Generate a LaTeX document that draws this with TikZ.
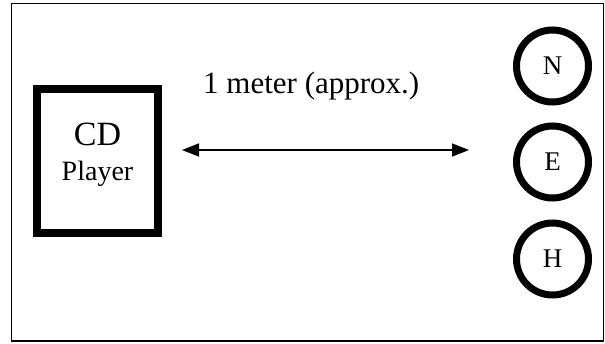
\documentclass[tikz,border=0pt]{standalone}
\usepackage{fontspec}
\setmainfont{Liberation Serif}
\usetikzlibrary{arrows.meta}
\begin{document}
\begin{tikzpicture}[x=1pt,y=-1pt,
  frame/.style={draw=black,line width=1.5pt},
  player/.style={draw=black,line width=8pt,minimum width=121pt,minimum height=144pt,inner sep=0pt},
  sensor/.style={draw=black,line width=7pt,circle,minimum size=72pt,inner sep=0pt,font=\fontsize{27}{29}\selectfont},
  link/.style={line width=1.5pt,{Triangle[length=17pt,width=13pt]}-{Triangle[length=17pt,width=13pt]}}]
\useasboundingbox (0,0) rectangle (605,343);
\draw[frame] (11.5,3.5) rectangle (603.5,341);
\node[player] (cd) at (97.5,161) {};
\node[anchor=base,font=\fontsize{34}{36}\selectfont,inner sep=0pt] (cdt) at (97.5,145) {CD};
\node[anchor=base,font=\fontsize{28}{30}\selectfont,inner sep=0pt] (plt) at (97.5,180) {Player};
\node[sensor] (n) at (552.5,66) {N};
\node[sensor] (e) at (552.5,162) {E};
\node[sensor] (h) at (552.5,259) {H};
\coordinate (al) at (182,150);
\coordinate (ar) at (469,150);
\draw[link] (al) -- (ar);
\node[anchor=base west,font=\fontsize{31}{33}\selectfont,inner sep=0pt] (lbl) at (203,93) {1 meter (approx.)};
\end{tikzpicture}
\end{document}
